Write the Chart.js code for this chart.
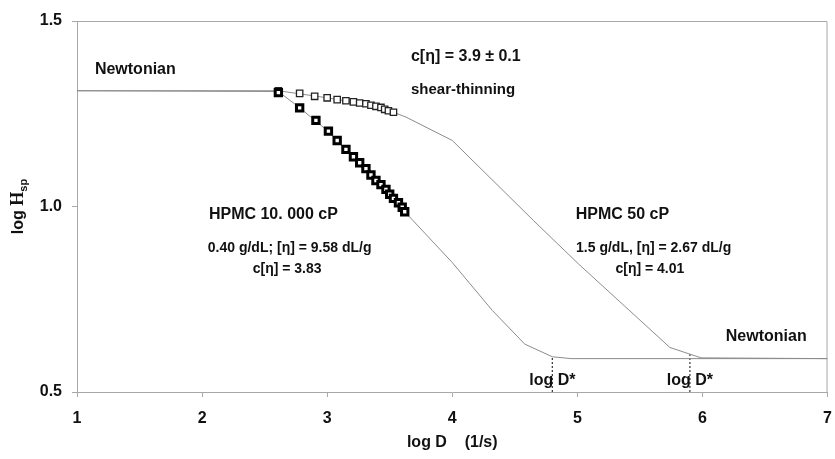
<!DOCTYPE html>
<html>
<head>
<meta charset="utf-8">
<script src="https://cdn.jsdelivr.net/npm/chart.js@4/dist/chart.umd.min.js"></script>
<style>
  html, body { margin: 0; padding: 0; background: #fff; }
  #wrap { width: 835px; height: 459px; }
</style>
</head>
<body>
<div id="wrap"><canvas id="flowChart"></canvas></div>
<script>
// measured points, HPMC 10 000 cP (0.40 g/dL)
const logD_10000 = [2.61, 2.78, 2.91, 3.01, 3.08, 3.15, 3.21, 3.26, 3.31, 3.35, 3.39, 3.43, 3.47, 3.50, 3.53, 3.57, 3.60, 3.62];
const logEta_10000 = [1.307, 1.266, 1.232, 1.203, 1.178, 1.154, 1.134, 1.118, 1.102, 1.085, 1.070, 1.059, 1.046, 1.033, 1.022, 1.010, 0.998, 0.986];

// measured points, HPMC 50 cP (1.5 g/dL)
const logD_50 = [2.61, 2.78, 2.90, 3.00, 3.08, 3.15, 3.21, 3.26, 3.31, 3.35, 3.39, 3.43, 3.46, 3.49, 3.53];
const logEta_50 = [1.312, 1.305, 1.297, 1.293, 1.288, 1.285, 1.282, 1.279, 1.277, 1.273, 1.270, 1.267, 1.262, 1.258, 1.254];

// master curves through both data sets
const fitD_10000 = [1, 2.61, 2.78, 3.00, 3.30, 3.62, 4.00, 4.32, 4.58, 4.80, 4.95, 7];
const fitEta_10000 = [1.312, 1.310, 1.266, 1.205, 1.100, 0.986, 0.849, 0.720, 0.629, 0.595, 0.590, 0.590];
const fitD_50 = [1, 2.61, 3.00, 3.30, 3.53, 3.63, 4.00, 4.65, 5.01, 5.74, 5.90, 5.99, 7];
const fitEta_50 = [1.312, 1.312, 1.293, 1.276, 1.254, 1.241, 1.178, 0.962, 0.845, 0.620, 0.602, 0.592, 0.590];

// critical shear rates log D*
const dStar = [4.80, 5.90];
const dStarEta = [0.595, 0.602];

const xTicks = [1, 2, 3, 4, 5, 6, 7];
const yTicks = [0.5, 1.0, 1.5];

const pts = (xs, ys) => xs.map((x, i) => ({ x: x, y: ys[i] }));

const GRAY = "#a8a8a8";
const LINE = "#8c8c8c";
Chart.defaults.font.family = "'Liberation Sans', Arial, sans-serif";
Chart.defaults.color = "#111";

// text labels placed in data units
const notes = [
  { text: "Newtonian", x: 1.143, y: 1.368, size: 16, align: "left" },
  { text: "c[\u03b7] = 3.9 \u00b1 0.1", x: 3.67, y: 1.403, size: 16, align: "left" },
  { text: "shear-thinning", x: 3.67, y: 1.314, size: 15, align: "left" },
  { text: "HPMC 10. 000 cP", x: 2.57, y: 0.978, size: 16, align: "center" },
  { text: "0.40 g/dL; [\u03b7] = 9.58 dL/g", x: 2.70, y: 0.889, size: 14, align: "center" },
  { text: "c[\u03b7] = 3.83", x: 2.68, y: 0.832, size: 14, align: "center" },
  { text: "HPMC 50 cP", x: 5.36, y: 0.978, size: 16, align: "center" },
  { text: "1.5 g/dL, [\u03b7] = 2.67 dL/g", x: 5.61, y: 0.889, size: 14, align: "center" },
  { text: "c[\u03b7] = 4.01", x: 5.58, y: 0.832, size: 14, align: "center" },
  { text: "Newtonian", x: 6.51, y: 0.649, size: 16, align: "center" },
  { text: "log D*", x: dStar[0], y: 0.532, size: 16, align: "center" },
  { text: "log D*", x: dStar[1], y: 0.532, size: 16, align: "center" }
];

const extras = {
  id: "extras",
  beforeDatasetsDraw(chart) {
    const { ctx, chartArea: a } = chart;
    ctx.save();
    ctx.strokeStyle = GRAY;
    ctx.lineWidth = 1;
    ctx.beginPath();
    ctx.moveTo(a.left, a.top + 0.5);
    ctx.lineTo(a.right - 0.5, a.top + 0.5);
    ctx.lineTo(a.right - 0.5, a.bottom);
    ctx.stroke();
    ctx.restore();
  },
  afterDraw(chart) {
    const { ctx, scales: { x, y } } = chart;
    ctx.save();
    ctx.fillStyle = "#111";
    ctx.textBaseline = "middle";
    notes.forEach(n => {
      ctx.font = "bold " + n.size + "px 'Liberation Sans', Arial, sans-serif";
      ctx.textAlign = n.align;
      ctx.fillText(n.text, x.getPixelForValue(n.x), y.getPixelForValue(n.y));
    });

    // y axis title: log H with "sp" subscript
    ctx.translate(18, (chart.chartArea.top + chart.chartArea.bottom) / 2);
    ctx.rotate(-Math.PI / 2);
    const f1 = "bold 16px 'Liberation Sans', Arial, sans-serif";
    const f2 = "bold 18px 'Liberation Serif', 'Times New Roman', serif";
    const f3 = "bold 11px 'Liberation Sans', Arial, sans-serif";
    ctx.font = f1; const w1 = ctx.measureText("log ").width;
    ctx.font = f2; const w2 = ctx.measureText("H").width;
    ctx.font = f3; const w3 = ctx.measureText("sp").width;
    let cx = -(w1 + w2 + w3) / 2;
    ctx.textAlign = "left";
    ctx.textBaseline = "alphabetic";
    ctx.font = f1; ctx.fillText("log ", cx, 5); cx += w1;
    ctx.font = f2; ctx.fillText("H", cx, 5); cx += w2;
    ctx.font = f3; ctx.fillText("sp", cx, 9);
    ctx.restore();
  }
};

new Chart(document.getElementById("flowChart"), {
  type: "scatter",
  data: {
    datasets: [
      {
        label: "HPMC 10 000 cP",
        data: pts(logD_10000, logEta_10000),
        pointStyle: "rect",
        pointRadius: 4.5,
        pointBorderWidth: 3,
        pointBackgroundColor: "#fff",
        pointBorderColor: "#000",
        showLine: false
      },
      {
        label: "HPMC 50 cP",
        data: pts(logD_50, logEta_50),
        pointStyle: "rect",
        pointRadius: 4.5,
        pointBorderWidth: 1.3,
        pointBackgroundColor: "#fff",
        pointBorderColor: "#222",
        showLine: false
      },
      {
        label: "fit 10 000 cP",
        data: pts(fitD_10000, fitEta_10000),
        showLine: true,
        borderColor: LINE,
        borderWidth: 1,
        pointRadius: 0
      },
      {
        label: "fit 50 cP",
        data: pts(fitD_50, fitEta_50),
        showLine: true,
        borderColor: LINE,
        borderWidth: 1,
        pointRadius: 0
      },
      {
        label: "D* 10 000 cP",
        data: [{ x: dStar[0], y: 0.5 }, { x: dStar[0], y: dStarEta[0] }],
        showLine: true,
        borderColor: "#333",
        borderWidth: 1.2,
        borderDash: [2, 2],
        pointRadius: 0
      },
      {
        label: "D* 50 cP",
        data: [{ x: dStar[1], y: 0.5 }, { x: dStar[1], y: dStarEta[1] }],
        showLine: true,
        borderColor: "#333",
        borderWidth: 1.2,
        borderDash: [2, 2],
        pointRadius: 0
      }
    ]
  },
  options: {
    responsive: true,
    maintainAspectRatio: false,
    animation: false,
    layout: { padding: { top: 21, right: 3, left: 0, bottom: 0 } },
    plugins: {
      legend: { display: false },
      tooltip: { enabled: false }
    },
    scales: {
      x: {
        type: "linear",
        min: 1,
        max: 7,
        afterBuildTicks: s => { s.ticks = xTicks.map(v => ({ value: v })); },
        afterFit: s => { s.height = 67; s.paddingLeft = 0; s.paddingRight = 0; },
        ticks: {
          font: { size: 16, weight: "bold" },
          color: "#111",
          padding: 12,
          callback: v => String(v)
        },
        grid: { drawOnChartArea: false, color: GRAY, tickLength: 5 },
        border: { color: GRAY },
        title: {
          display: true,
          text: "log D    (1/s)",
          font: { size: 16, weight: "bold" },
          color: "#111",
          padding: { top: 0, bottom: 7 }
        }
      },
      y: {
        min: 0.5,
        max: 1.5,
        afterBuildTicks: s => { s.ticks = yTicks.map(v => ({ value: v })); },
        afterFit: s => { s.width = 77; s.paddingTop = 0; s.paddingBottom = 0; },
        ticks: {
          font: { size: 16, weight: "bold" },
          color: "#111",
          padding: 10,
          callback: v => v.toFixed(1)
        },
        grid: { drawOnChartArea: false, color: GRAY, tickLength: 5 },
        border: { color: GRAY }
      }
    }
  },
  plugins: [extras]
});
</script>
</body>
</html>
